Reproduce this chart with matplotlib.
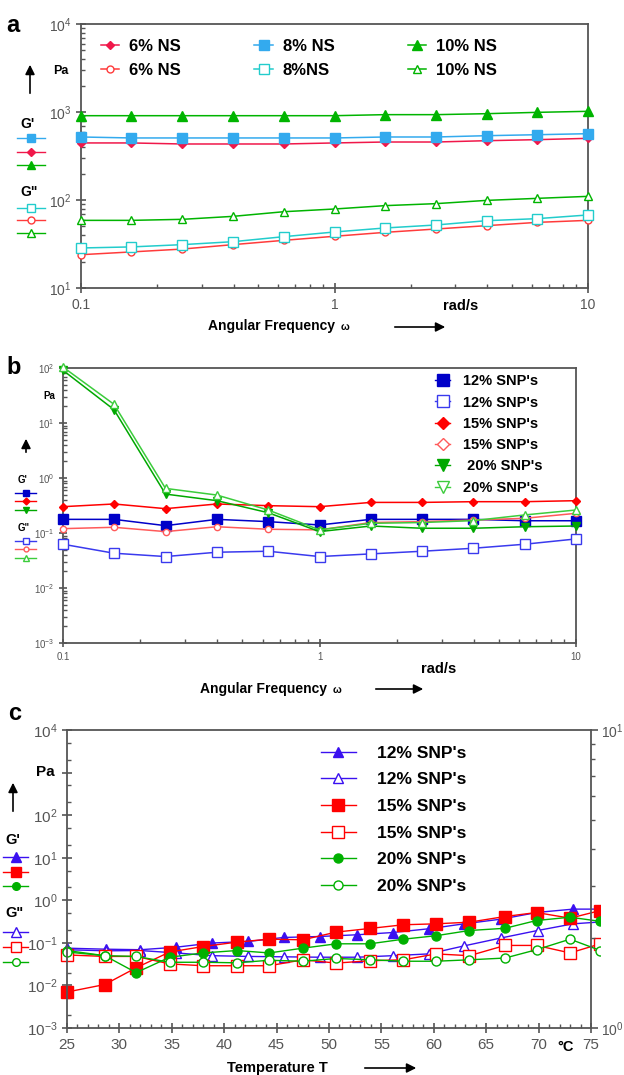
#!/usr/bin/env python3
"""Three-panel rheology figure: frequency sweeps (a, b) and temperature sweep (c)."""

import matplotlib
matplotlib.use("Agg")
from matplotlib import pyplot as plt
from matplotlib.lines import Line2D
from matplotlib.patches import Rectangle, FancyArrowPatch
from matplotlib.text import Annotation
from matplotlib.ticker import LogLocator, MultipleLocator, NullFormatter

plt.rcParams['font.family'] = ['Liberation Sans', 'DejaVu Sans']
plt.rcParams['mathtext.default'] = 'regular'

W, H = 624, 1075
GREY = '#555555'

# ---- panel a: NS frequency sweep ----
freq = [0.1, 0.158, 0.251, 0.398, 0.631, 1.0, 1.585, 2.512, 3.981, 6.310, 10.0]
ns6_g1 = [445, 445, 433, 433, 433, 445, 456, 456, 472, 485, 502]
ns8_g1 = [520, 507, 507, 507, 507, 507, 520, 520, 538, 552, 567]
ns10_g1 = [908, 908, 908, 908, 908, 908, 933, 933, 957, 991, 1018]
ns6_g2 = [23.9, 25.7, 27.7, 31.1, 34.8, 38.7, 42.9, 46.8, 51.1, 55.7, 58.7]
ns8_g2 = [28.5, 29.3, 31.1, 33.6, 38.3, 43.3, 48.1, 52.0, 58.2, 61.4, 67.6]
ns10_g2 = [58.7, 58.7, 60.3, 65.2, 73.6, 79.0, 86.3, 90.9, 99.0, 104.4, 110.0]
ns_labels = ["6% NS", "6% NS", "8% NS", "8%NS", "10% NS", "10% NS"]

# ---- panel b: SNP frequency sweep ----
snp12_g1 = [0.177, 0.177, 0.136, 0.177, 0.161, 0.140, 0.177, 0.177, 0.177, 0.167, 0.167]
snp12_g2 = [0.0625, 0.0429, 0.0373, 0.0447, 0.0466, 0.0373, 0.0417, 0.0466, 0.0528, 0.0625, 0.078]
snp15_g1 = [0.301, 0.337, 0.277, 0.337, 0.314, 0.301, 0.360, 0.360, 0.371, 0.371, 0.387]
snp15_g2 = [0.120, 0.127, 0.106, 0.130, 0.117, 0.114, 0.155, 0.161, 0.172, 0.185, 0.228]
snp20_g1 = [90.7, 17.5, 0.51, 0.387, 0.234, 0.106, 0.134, 0.122, 0.122, 0.130, 0.134]
snp20_g2 = [104, 21.9, 0.647, 0.49, 0.262, 0.114, 0.150, 0.155, 0.168, 0.213, 0.262]
snp_labels_b = ["12% SNP's", "12% SNP's", "15% SNP's", "15% SNP's", " 20% SNP's", "20% SNP's"]

# ---- panel c: SNP temperature sweep ----
temp_tri = [25.0, 28.7, 32.0, 35.4, 38.8, 42.3, 45.7, 49.1, 52.7, 56.1, 59.5, 62.9, 66.4, 69.9, 73.3, 76.7]
temp_sq = [25.0, 28.6, 31.6, 34.8, 38.0, 41.2, 44.3, 47.5, 50.7, 53.9, 57.1, 60.2, 63.4, 66.8, 69.8, 73.0, 75.9]
t12_g1 = [0.075, 0.071, 0.069, 0.079, 0.099, 0.108, 0.134, 0.141, 0.155, 0.175, 0.214, 0.28, 0.36, 0.52, 0.62, 0.62]
t12_g2 = [0.069, 0.065, 0.066, 0.058, 0.050, 0.048, 0.047, 0.046, 0.046, 0.050, 0.055, 0.085, 0.13, 0.195, 0.28, 0.32]
t15_g1 = [0.007, 0.0105, 0.026, 0.061, 0.082, 0.104, 0.122, 0.118, 0.179, 0.218, 0.266, 0.28, 0.306, 0.416, 0.516, 0.38, 0.575]
t15_g2 = [0.052, 0.048, 0.048, 0.032, 0.029, 0.029, 0.029, 0.040, 0.0335, 0.038, 0.040, 0.055, 0.050, 0.087, 0.087, 0.058, 0.095]
t20_g1 = [0.066, 0.050, 0.020, 0.046, 0.058, 0.066, 0.058, 0.075, 0.095, 0.095, 0.122, 0.147, 0.195, 0.22, 0.335, 0.40, 0.32]
t20_g2 = [0.061, 0.050, 0.048, 0.035, 0.035, 0.034, 0.039, 0.037, 0.043, 0.040, 0.037, 0.037, 0.040, 0.044, 0.069, 0.122, 0.066]
snp_labels_c = ["12% SNP's", "12% SNP's", "15% SNP's", "15% SNP's", "20% SNP's", "20% SNP's"]


def fxy(x, y):
    """Pixel position (from top-left) to figure fraction."""
    return x / W, 1 - y / H


def add_axes_px(fig, left, top, right, bottom):
    return fig.add_axes([left / W, 1 - bottom / H, (right - left) / W, (bottom - top) / H])


def style_axes(ax, labelsize, major_len=7):
    for s in ax.spines.values():
        s.set_color(GREY)
        s.set_linewidth(1.3)
    ax.tick_params(which='major', direction='inout', length=major_len, width=1.2,
                   color=GREY, labelcolor=GREY, labelsize=labelsize)
    ax.tick_params(which='minor', direction='in', length=3, width=1.0, color=GREY)


def text_px(fig, x, y, s, size, weight='bold', **kw):
    fx, fy = fxy(x, y)
    return fig.text(fx, fy, s, fontsize=size, fontweight=weight, va='center', **kw)


def xlabel_px(fig, x, y, s, size, small):
    """Bold axis caption followed by a smaller symbol sitting on its baseline."""
    t = text_px(fig, x, y, s, size)
    fig.add_artist(Annotation(
        small, xy=(1, 0.1), xycoords=t, xytext=(4, 0), textcoords='offset points',
        fontsize=size * 0.75, fontweight='bold', va='bottom'))


def arrow_px(fig, x0, y0, x1, y1, lw=1.2):
    fig.add_artist(FancyArrowPatch(
        fxy(x0, y0), fxy(x1, y1), transform=fig.transFigure,
        arrowstyle='-|>', mutation_scale=14, color='black', lw=lw))


def key_px(fig, x0, x1, y, color, marker, ms, mfc, lw=1.0):
    """Short line-and-marker sample drawn outside the axes."""
    (a, b), (c, d) = fxy(x0, y), fxy(x1, y)
    fig.add_artist(Line2D([a, c], [b, d], transform=fig.transFigure, color=color, lw=lw))
    fig.add_artist(Line2D([(a + c) / 2], [b], transform=fig.transFigure, color=color,
                          marker=marker, ms=ms, mfc=mfc, mec=color, lw=0))


fig = plt.figure(figsize=(W / 100, H / 100), dpi=100)

# =============================== panel a ===============================
ax = add_axes_px(fig, 81, 24, 588, 288)
ax.set_xscale('log')
ax.set_yscale('log')
ax.set_xlim(0.1, 10)
ax.set_ylim(10, 1e4)

RED_A, RED_A2 = '#f0184a', '#ff3b3b'
CY_A, CY_A2 = '#33aaee', '#22cccc'
GR_A = '#00b400'
series_a = [
    (ns6_g1, RED_A, 'D', 4.5, RED_A),
    (ns6_g2, RED_A2, 'o', 5, 'white'),
    (ns8_g1, CY_A, 's', 6.5, CY_A),
    (ns8_g2, CY_A2, 's', 6.5, 'white'),
    (ns10_g1, GR_A, '^', 6.5, GR_A),
    (ns10_g2, GR_A, '^', 6, 'white'),
]
for (vals, col, mk, ms, mfc), lab in zip(series_a, ns_labels):
    ax.plot(freq, vals, color=col, marker=mk, ms=ms, mfc=mfc, mec=col, lw=1.1,
            label=lab, clip_on=False, zorder=3)

style_axes(ax, 10)
ax.set_xticks([0.1, 1, 10])
ax.set_xticklabels(['0.1', '1', '10'])
ax.legend(loc='upper left', bbox_to_anchor=(0.01, 1.0), ncol=3, frameon=False,
          prop={'weight': 'bold', 'size': 12}, handlelength=1.1, columnspacing=4.4,
          labelspacing=0.55, handletextpad=0.6)

text_px(fig, 6, 25, 'a', 17)
text_px(fig, 53, 71, 'Pa', 9)
arrow_px(fig, 30, 96, 30, 62)
text_px(fig, 20, 124, "G'", 10)
key_px(fig, 17, 45, 138, CY_A, 's', 6, CY_A)
key_px(fig, 17, 45, 152, RED_A, 'D', 4, RED_A)
key_px(fig, 17, 45, 165, GR_A, '^', 6, GR_A)
text_px(fig, 20, 192, 'G"', 10)
key_px(fig, 17, 45, 208, CY_A2, 's', 6, 'white')
key_px(fig, 17, 45, 220, RED_A2, 'o', 5, 'white')
key_px(fig, 17, 45, 233, GR_A, '^', 5.5, 'white')
xlabel_px(fig, 208, 326, 'Angular Frequency', 10, 'ω')
arrow_px(fig, 392, 327, 448, 327)
text_px(fig, 443, 306, 'rad/s', 10.5)

# =============================== panel b ===============================
ax = add_axes_px(fig, 63, 368, 576, 643)
ax.set_xscale('log')
ax.set_yscale('log')
ax.set_xlim(0.1, 10)
ax.set_ylim(1e-3, 1e2)

BL_B, BL_B2 = '#0000c8', '#3a3aee'
RD_B, RD_B2 = '#ff0000', '#ff5a5a'
GR_B, GR_B2 = '#00a800', '#3ccc3c'
series_b = [
    (snp12_g1, BL_B, 's', 7, BL_B),
    (snp12_g2, BL_B2, 's', 6.5, 'white'),
    (snp15_g1, RD_B, 'D', 4.5, RD_B),
    (snp15_g2, RD_B2, 'o', 4.5, 'white'),
    (snp20_g1, GR_B, 'v', 6, GR_B),
    (snp20_g2, GR_B2, '^', 6, 'white'),
]
for vals, col, mk, ms, mfc in series_b:
    ax.plot(freq, vals, color=col, marker=mk, ms=ms, mfc=mfc, mec=col, lw=1.1,
            clip_on=False, zorder=3)

legend_b = [
    Line2D([], [], color=BL_B, marker='s', ms=8, mfc=BL_B, lw=1),
    Line2D([], [], color=BL_B2, marker='s', ms=8, mfc='white', lw=1),
    Line2D([], [], color=RD_B, marker='D', ms=6, mfc=RD_B, lw=1),
    Line2D([], [], color=RD_B2, marker='D', ms=6, mfc='white', lw=1),
    Line2D([], [], color=GR_B, marker='v', ms=8, mfc=GR_B, lw=1),
    Line2D([], [], color=GR_B2, marker='v', ms=8, mfc='white', lw=1),
]
ax.legend(legend_b, snp_labels_b, loc='upper left', bbox_to_anchor=(0.70, 1.025), frameon=False,
          prop={'weight': 'bold', 'size': 10.5}, handlelength=1.0, labelspacing=0.5,
          handletextpad=0.9)

style_axes(ax, 7, major_len=6)
ax.set_xticks([0.1, 1, 10])
ax.set_xticklabels(['0.1', '1', '10'])

text_px(fig, 6, 368, 'b', 17)
text_px(fig, 43, 396, 'Pa', 7)
arrow_px(fig, 26, 455, 26, 436)
text_px(fig, 18, 480, "G'", 7)
key_px(fig, 15, 36, 493, BL_B, 's', 5, BL_B)
key_px(fig, 15, 36, 501, RD_B, 'D', 3.5, RD_B)
key_px(fig, 15, 36, 510, GR_B, 'v', 5, GR_B)
text_px(fig, 18, 528, 'G"', 7)
key_px(fig, 15, 36, 541, BL_B2, 's', 5, 'white')
key_px(fig, 15, 36, 549, RD_B2, 'o', 3.5, 'white')
key_px(fig, 15, 36, 558, GR_B2, '^', 5, 'white')
xlabel_px(fig, 200, 689, 'Angular Frequency', 10, 'ω')
arrow_px(fig, 373, 689, 426, 689)
text_px(fig, 421, 669, 'rad/s', 10.5)

# =============================== panel c ===============================
ax = add_axes_px(fig, 67, 730, 591, 1028)
ax.set_yscale('log')
ax.set_xlim(25, 75)
ax.set_ylim(1e-3, 1e4)

BL_C = '#3a10f0'
RD_C = '#ff0000'
GR_C = '#00b000'
series_c = [
    (temp_tri, t12_g1, BL_C, '^', 7.5, BL_C),
    (temp_tri, t12_g2, BL_C, '^', 7.5, 'white'),
    (temp_sq, t15_g1, RD_C, 's', 8.5, RD_C),
    (temp_sq, t15_g2, RD_C, 's', 8, 'white'),
    (temp_sq, t20_g1, GR_C, 'o', 6.5, GR_C),
    (temp_sq, t20_g2, GR_C, 'o', 6.5, 'white'),
]
# the data run a little past the 75 °C spine, so clip to a slightly wider box
clip_box = Rectangle((-0.02, 0), 1.037, 1, transform=ax.transAxes)
handles_c = []
for t, vals, col, mk, ms, mfc in series_c:
    ln, = ax.plot(t, vals, color=col, marker=mk, ms=ms, mfc=mfc, mec=col, lw=1.0)
    ln.set_clip_path(clip_box)
    handles_c.append(ln)

ax.legend(handles_c, snp_labels_c, loc='upper left', bbox_to_anchor=(0.455, 1.0), frameon=False,
          prop={'weight': 'bold', 'size': 12.5}, handlelength=2.0, labelspacing=0.66,
          handletextpad=1.2)

style_axes(ax, 11)
ax.xaxis.set_major_locator(MultipleLocator(5))
ax.xaxis.set_minor_locator(MultipleLocator(1))
ax.yaxis.set_minor_locator(LogLocator(base=10, subs=(2, 5), numticks=20))
ax.yaxis.set_minor_formatter(NullFormatter())
ax.set_yticks([1e-3, 1e-2, 1e-1, 1, 10, 100, 1e3, 1e4])
ax.set_yticklabels([r'$10^{-3}$', r'$10^{-2}$', r'$10^{-1}$', r'$10^{0}$',
                    r'$10^{1}$', r'$10^{2}$', '', r'$10^{4}$'])

ax2 = ax.twinx()
ax2.set_yscale('log')
ax2.set_ylim(1, 10)
for s in ax2.spines.values():
    s.set_visible(False)
ax2.tick_params(which='major', direction='out', length=5, width=1.2, color=GREY,
                labelcolor=GREY, labelsize=10, pad=2)
ax2.tick_params(which='minor', direction='out', length=3, width=1.0, color=GREY)
ax2.yaxis.set_minor_formatter(NullFormatter())

text_px(fig, 8, 713, 'c', 17)
text_px(fig, 36, 772, 'Pa', 11)
arrow_px(fig, 13, 814, 13, 780)
text_px(fig, 5, 840, "G'", 10.5)
key_px(fig, 3, 28, 857, BL_C, '^', 7, BL_C)
key_px(fig, 3, 28, 872, RD_C, 's', 7, RD_C)
key_px(fig, 3, 28, 886, GR_C, 'o', 5.5, GR_C)
text_px(fig, 5, 913, 'G"', 10.5)
key_px(fig, 3, 28, 932, BL_C, '^', 7, 'white')
key_px(fig, 3, 28, 947, RD_C, 's', 7, 'white')
key_px(fig, 3, 28, 962, GR_C, 'o', 5.5, 'white')
text_px(fig, 227, 1068, 'Temperature T', 10.5)
arrow_px(fig, 362, 1068, 419, 1068)
text_px(fig, 557, 1047, '°C', 10.5)

fig.savefig('out.png', dpi=100)
